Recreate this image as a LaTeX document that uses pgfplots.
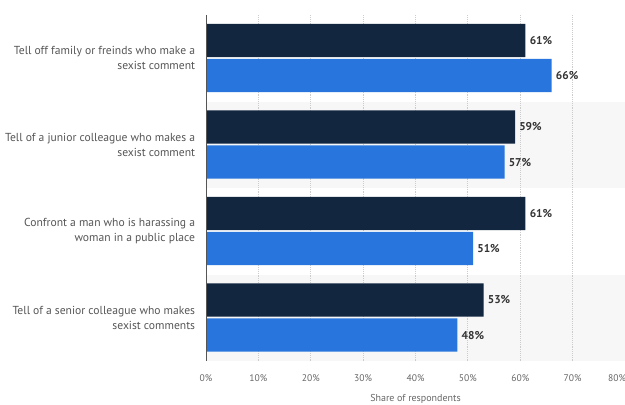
\documentclass[border=0pt]{standalone}
\usepackage{fontspec}
\setmainfont{PT Sans}
\usepackage{pgfplots}
\pgfplotsset{compat=1.18}
\definecolor{navy}{HTML}{12263F}
\definecolor{barblue}{HTML}{2876DD}
\definecolor{labelgrey}{HTML}{555555}
\definecolor{tickgrey}{HTML}{666666}
\definecolor{gridgrey}{HTML}{CCCCCC}
\definecolor{bandgrey}{HTML}{F7F7F7}
\definecolor{valgrey}{HTML}{333333}
\begin{document}
\begin{tikzpicture}
\begin{axis}[
    set layers,
    at={(154.5pt,32.25pt)}, anchor=south west,
    width=314.25pt, height=259.5pt, scale only axis,
    xmin=0, xmax=80, ymin=0, ymax=4,
    axis line style={draw=none},
    major tick length=0pt,
    /pgf/number format/assume math mode=true,
    xtick={0,10,...,70},
    xticklabel={\pgfmathprintnumber{\tick}\%},
    extra x ticks={80},
    extra x tick labels={80\%},
    extra x tick style={xticklabel style={xshift=-6pt}},
    xmajorgrids,
    grid style={densely dotted, gridgrey, line width=0.6pt},
    xticklabel style={font=\fontsize{7.2}{8}\selectfont, color=tickgrey, anchor=base, yshift=-15.3pt},
    xlabel={Share of respondents},
    xlabel style={at={(axis description cs:0.5,0)}, anchor=base, yshift=-30pt,
        font=\fontsize{7.5}{9}\selectfont, color=tickgrey},
    ytick={0.5,1.5,2.5,3.5},
    yticklabels={
        {Tell of a senior colleague who makes\\sexist comments},
        {Confront a man who is harassing a\\woman in a public place},
        {Tell of a junior colleague who makes a\\sexist comment},
        {Tell off family or freinds who make a\\sexist comment}},
    yticklabel style={align=right, anchor=east, inner sep=0pt, xshift=-8pt,
        font=\fontsize{8.7}{11.25}\selectfont, color=labelgrey},
    xbar, bar shift=0pt, bar width=0.385,
    nodes near coords={\pgfmathprintnumber{\pgfplotspointmeta}\%},
    every node near coord/.append style={font=\fontsize{8.5}{10}\selectfont\bfseries,
        color=valgrey, anchor=west, inner sep=0pt, xshift=3pt},
]
\begin{pgfonlayer}{axis background}
  \fill[bandgrey] (axis cs:0,2) rectangle (axis cs:80,3);
  \fill[bandgrey] (axis cs:0,0) rectangle (axis cs:80,1);
\end{pgfonlayer}
\addplot[fill=navy, draw=none] coordinates {(61,3.705) (59,2.705) (61,1.705) (53,0.705)};
\addplot[fill=barblue, draw=none] coordinates {(66,3.3) (57,2.3) (51,1.3) (48,0.3)};
\draw[labelgrey, line width=0.8pt] (rel axis cs:0,0) -- (rel axis cs:0,1);
\end{axis}
\pgfresetboundingbox
\path[use as bounding box] (0,0) rectangle (468.75pt,303pt);
\end{tikzpicture}
\end{document}
